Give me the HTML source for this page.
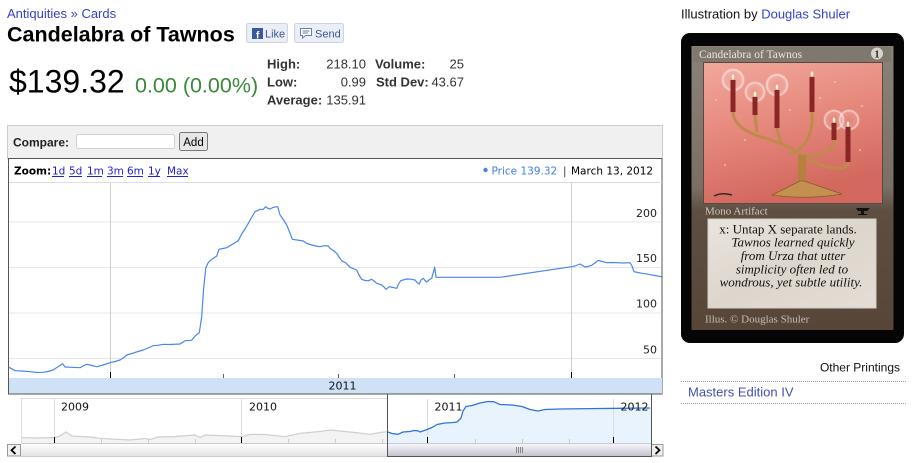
<!DOCTYPE html>
<html>
<head>
<meta charset="utf-8">
<style>
html,body{margin:0;padding:0;background:#fff;}
body{width:912px;height:463px;overflow:hidden;position:relative;}
svg{position:absolute;left:0;top:0;}
</style>
</head>
<body>
<svg width="912" height="463" viewBox="0 0 912 463" xmlns="http://www.w3.org/2000/svg">
<defs>
  <linearGradient id="track" x1="0" y1="0" x2="0" y2="1">
    <stop offset="0" stop-color="#ffffff"/>
    <stop offset="1" stop-color="#e2e2e2"/>
  </linearGradient>
  <linearGradient id="thumb" x1="0" y1="0" x2="0" y2="1">
    <stop offset="0" stop-color="#f6f6fa"/>
    <stop offset="1" stop-color="#c4c4d0"/>
  </linearGradient>
  <linearGradient id="art" x1="0" y1="0" x2="0.3" y2="1">
    <stop offset="0" stop-color="#f2a89c"/>
    <stop offset="0.5" stop-color="#e6887c"/>
    <stop offset="1" stop-color="#d2685e"/>
  </linearGradient>
  <linearGradient id="frame" x1="0" y1="0" x2="0" y2="1">
    <stop offset="0" stop-color="#8a8279"/>
    <stop offset="0.5" stop-color="#7a6f65"/>
    <stop offset="0.58" stop-color="#5e4e42"/>
    <stop offset="1" stop-color="#574638"/>
  </linearGradient>
  <linearGradient id="tbox" x1="0" y1="0" x2="1" y2="1">
    <stop offset="0" stop-color="#e9e4dd"/>
    <stop offset="0.5" stop-color="#ddd6cd"/>
    <stop offset="1" stop-color="#e4ddd5"/>
  </linearGradient>
  <radialGradient id="halo" cx="0.5" cy="0.5" r="0.5">
    <stop offset="0" stop-color="#ffffff" stop-opacity="0"/>
    <stop offset="0.7" stop-color="#ffffff" stop-opacity="0.15"/>
    <stop offset="0.85" stop-color="#ffffff" stop-opacity="0.6"/>
    <stop offset="1" stop-color="#ffffff" stop-opacity="0"/>
  </radialGradient>
</defs>

<!-- ===== Header ===== -->
<g font-family="'Liberation Sans', Arial, sans-serif">
  <text x="7" y="18" font-size="13" fill="#3343c8">Antiquities <tspan fill="#3343c8">»</tspan> Cards</text>
  <text x="7" y="41.5" font-size="21.5" font-weight="bold" fill="#000">Candelabra of Tawnos</text>

  <!-- Like button -->
  <rect x="246.5" y="23.5" width="41" height="19" rx="2" fill="#eceef5" stroke="#cad4e7"/>
  <rect x="252" y="28" width="11" height="11" fill="#3b5998"/>
  <text x="256" y="38.5" font-size="10" font-weight="bold" fill="#fff">f</text>
  <text x="265" y="37.5" font-size="11" fill="#3b5998">Like</text>
  <!-- Send button -->
  <rect x="294.5" y="23.5" width="49" height="19" rx="2" fill="#eceef5" stroke="#cad4e7"/>
  <path d="M300.5 28.5 h11 v7 h-6 l-3 2.5 v-2.5 h-2 z" fill="#fff" stroke="#6d7fa8"/>
  <line x1="302.5" y1="31" x2="309.5" y2="31" stroke="#6d7fa8"/>
  <line x1="302.5" y1="33" x2="308" y2="33" stroke="#6d7fa8"/>
  <text x="315" y="37.5" font-size="11" fill="#3b5998">Send</text>

  <!-- Price -->
  <text x="9" y="92.5" font-size="32" fill="#000">$139.32</text>
  <text x="135" y="92.5" font-size="21.5" fill="#3a883a">0.00 (0.00%)</text>

  <!-- Stats -->
  <g font-size="13" fill="#333">
    <text x="267" y="68.5" font-weight="bold">High:</text>
    <text x="366" y="68.5" text-anchor="end">218.10</text>
    <text x="375" y="68.5" font-weight="bold">Volume:</text>
    <text x="464" y="68.5" text-anchor="end">25</text>
    <text x="267" y="86.5" font-weight="bold">Low:</text>
    <text x="366" y="86.5" text-anchor="end">0.99</text>
    <text x="376" y="86.5" font-weight="bold">Std Dev:</text>
    <text x="464" y="86.5" text-anchor="end">43.67</text>
    <text x="267" y="104.5" font-weight="bold">Average:</text>
    <text x="366" y="104.5" text-anchor="end">135.91</text>
  </g>

  <!-- Compare panel -->
  <rect x="7.5" y="125.5" width="655" height="33" fill="#f0f0f0" stroke="#cccccc"/>
  <text x="13" y="146.5" font-size="12" font-weight="bold" fill="#222">Compare:</text>
  <rect x="76.5" y="134.5" width="98" height="14" rx="2" fill="#fff" stroke="#d0d0d0"/>
  <rect x="179.5" y="132.5" width="28" height="18" rx="2" fill="#e6e6e6" stroke="#777"/>
  <text x="193.5" y="146" font-size="11.5" text-anchor="middle" fill="#000">Add</text>
</g>

<!-- ===== Main chart ===== -->
<rect x="8.5" y="158.5" width="653.5" height="235.5" fill="#fff" stroke="#555"/>
<line x1="9" y1="182.5" x2="662" y2="182.5" stroke="#dddddd"/>
<g font-family="'DejaVu Sans', Verdana, sans-serif" font-size="10.5">
  <text x="14" y="174.5" font-weight="bold" fill="#000">Zoom:</text>
  <g fill="#2222cc">
    <text x="52" y="174.5">1d</text>
    <text x="69" y="174.5">5d</text>
    <text x="87" y="174.5">1m</text>
    <text x="107" y="174.5">3m</text>
    <text x="127" y="174.5">6m</text>
    <text x="148" y="174.5">1y</text>
    <text x="167" y="174.5">Max</text>
  </g>
  <g stroke="#2222cc" stroke-width="1">
    <line x1="52" y1="176.5" x2="64" y2="176.5"/>
    <line x1="69" y1="176.5" x2="82" y2="176.5"/>
    <line x1="87" y1="176.5" x2="102" y2="176.5"/>
    <line x1="107" y1="176.5" x2="123" y2="176.5"/>
    <line x1="127" y1="176.5" x2="143" y2="176.5"/>
    <line x1="148" y1="176.5" x2="160" y2="176.5"/>
    <line x1="167" y1="176.5" x2="188" y2="176.5"/>
  </g>
  <circle cx="485.5" cy="170" r="2.2" fill="#4684ee"/>
  <text x="491.5" y="174.5" fill="#3f7de8">Price 139.32</text>
  <text x="563" y="174.5" fill="#333">|</text>
  <text x="571" y="174.5" fill="#000">March 13, 2012</text>
</g>

<!-- gridlines -->
<g stroke="#e6e6f3" stroke-width="1">
  <line x1="9" y1="222" x2="661" y2="222"/>
  <line x1="9" y1="267.5" x2="661" y2="267.5"/>
  <line x1="9" y1="313" x2="661" y2="313"/>
  <line x1="9" y1="358.5" x2="661" y2="358.5"/>
</g>
<g stroke="#cfcfcf" stroke-width="1">
  <line x1="110.5" y1="183" x2="110.5" y2="378"/>
  <line x1="571.5" y1="183" x2="571.5" y2="378"/>
</g>
<g stroke="#000" stroke-width="1">
  <line x1="110.5" y1="372" x2="110.5" y2="378"/>
  <line x1="571.5" y1="372" x2="571.5" y2="378"/>
</g>
<g stroke="#666" stroke-width="1">
  <line x1="223.5" y1="374" x2="223.5" y2="378"/>
  <line x1="338.5" y1="374" x2="338.5" y2="378"/>
  <line x1="454.5" y1="374" x2="454.5" y2="378"/>
</g>
<g font-family="'DejaVu Sans', Verdana, sans-serif" font-size="11" fill="#222" text-anchor="end">
  <text x="657" y="217">200</text>
  <text x="657" y="262">150</text>
  <text x="657" y="307.5">100</text>
  <text x="657" y="353.5">50</text>
</g>

<!-- main line -->
<polyline fill="none" stroke="#4a86ee" stroke-width="1.2" stroke-linejoin="round"
 points="9,367.3 15,370.7 22,371 30,371.7 37,372.5 43,372.3 48,371.5 53,370 58,366.7 62.7,363.7 65,367 72,367.3 80,367.7 84,365.5 86.7,364.3 92,365.5 96.7,366.7 103,365 110,362.7 115,361.5 120,360 124,357.5 126.7,355 132,353.5 138,351.5 143.3,350 148,348 153.3,345.7 158,345.3 163.3,344.3 170,344.5 180,344 185,340.7 191.7,340.3 195,336 199.3,332.7 201.7,316.7 203.5,290 205.7,268.3 208,263 210,260.7 213,258.5 216.7,256 219,249.3 223,248.5 226.7,247.7 232,244.5 238.3,240.7 241.7,234 245,229 248.3,223.3 251,218.5 255,211.7 260,209.3 263,209.5 265.7,206.7 268,208.5 270,209 273.3,207.3 277.7,206.7 280,215 283,219 286.7,225 290,233 292.3,239.3 297,240 303.3,241 307,243.5 311.7,245 316,246 320,246.7 325,245.6 328.3,246 330,248.3 334,251 336.7,253.3 339,257 341.7,260.7 346,263 350,267.3 353,268.5 356.7,270 359,275 361.7,279.3 365,280.5 368.3,280.7 371.7,279.3 374,281 376.7,283.3 381.7,285 384,287 386,289.3 389.3,286.7 393,287.5 396.7,288.3 398.5,284 400.7,280.7 406.7,279 411,279.2 415,280 417,282.5 419.3,284 421,280 423.3,278.3 425,280.5 426.7,282 429,280 431.7,278.3 434.7,267.3 436,277.3 500,277.3 571.7,266.7 575,266 580,264 585,267 588,266.5 591.7,265.3 595,263 598.3,260.3 602,261.5 606.7,262.7 612,262.5 616.7,262.7 623,263 630,262.7 632,266 634,271.7 638,272.5 641.7,273.3 646,273.8 650,274.7 655,275.5 661.5,276.7"/>

<!-- band -->
<rect x="9" y="378" width="653" height="15.5" fill="#cfe1f6"/>
<text x="328.5" y="389.5" font-family="'DejaVu Sans', Verdana, sans-serif" font-size="11" fill="#111">2011</text>

<!-- ===== Navigator ===== -->
<rect x="21.5" y="398.5" width="630" height="45" fill="#fff"/>
<line x1="21" y1="398.5" x2="387" y2="398.5" stroke="#dddddd"/>
<line x1="21.5" y1="398" x2="21.5" y2="444" stroke="#dddddd"/>
<!-- blue fill under line in window -->
<polygon fill="#e8f3fd" points="387,431.7 392,433.5 398,434.3 403,432 410,431.5 414,430.5 418,430.8 420,432 427,429.5 433,427 437,424.5 445,423 452,422.6 457,422 461,418 463,411 466,406.5 472,405.5 480,403 488,401.5 494,401.8 500,404.5 512,405 522,406.5 530,409.5 538,411 545,409.5 560,409 600,408.5 620,408.3 651,408 651,443 387,443"/>
<g stroke="#dddddd">
  <line x1="54.5" y1="399" x2="54.5" y2="443"/>
  <line x1="241.5" y1="399" x2="241.5" y2="443"/>
  <line x1="427.5" y1="399" x2="427.5" y2="443"/>
  <line x1="613.5" y1="399" x2="613.5" y2="443"/>
</g>
<!-- gray series (outside window) -->
<polygon fill="#f3f3f3" points="22,437.7 40,438 55,437.5 60,436 66,432 72,436 90,437 100,438.3 120,439.5 130,440 140,439 145,438.5 150,439.5 158,437 175,436.5 195,435 200,437.5 205,435 230,436 242,436.7 250,434.3 265,434.5 285,436.7 300,433.3 320,431.5 330,430 340,431 355,432.5 370,434.3 380,432.5 387,431.7 387,443 22,443"/>
<polyline fill="none" stroke="#cfcfcf" stroke-width="1.2" points="22,437.7 40,438 55,437.5 60,436 66,432 72,436 90,437 100,438.3 120,439.5 130,440 140,439 145,438.5 150,439.5 158,437 175,436.5 195,435 200,437.5 205,435 230,436 242,436.7 250,434.3 265,434.5 285,436.7 300,433.3 320,431.5 330,430 340,431 355,432.5 370,434.3 380,432.5 387,431.7"/>
<!-- blue series in window -->
<polyline fill="none" stroke="#2f73e0" stroke-width="1.3" stroke-linejoin="round" points="387,431.7 392,433.5 398,434.3 403,432 410,431.5 414,430.5 418,430.8 420,432 427,429.5 433,427 437,424.5 445,423 452,422.6 457,422 461,418 463,411 466,406.5 472,405.5 480,403 488,401.5 494,401.8 500,404.5 512,405 522,406.5 530,409.5 538,411 545,409.5 560,409 600,408.5 620,408.3 650,408"/>
<!-- nav ticks -->
<line x1="22" y1="443.5" x2="651" y2="443.5" stroke="#cccccc"/>
<g stroke="#000">
  <line x1="54.5" y1="437" x2="54.5" y2="443"/>
  <line x1="241.5" y1="437" x2="241.5" y2="443"/>
  <line x1="427.5" y1="437" x2="427.5" y2="443"/>
  <line x1="613.5" y1="437" x2="613.5" y2="443"/>
</g>
<g stroke="#cccccc">
  <line x1="101.5" y1="439" x2="101.5" y2="443"/>
  <line x1="148.5" y1="439" x2="148.5" y2="443"/>
  <line x1="195.5" y1="439" x2="195.5" y2="443"/>
  <line x1="288.5" y1="439" x2="288.5" y2="443"/>
  <line x1="335.5" y1="439" x2="335.5" y2="443"/>
  <line x1="382.5" y1="439" x2="382.5" y2="443"/>
  <line x1="475.5" y1="439" x2="475.5" y2="443"/>
  <line x1="522.5" y1="439" x2="522.5" y2="443"/>
  <line x1="569.5" y1="439" x2="569.5" y2="443"/>
</g>
<g font-family="'DejaVu Sans', Verdana, sans-serif" font-size="11" fill="#111">
  <text x="61" y="410.5">2009</text>
  <text x="249" y="410.5">2010</text>
  <text x="434.5" y="410.5">2011</text>
  <text x="620.5" y="410.5">2012</text>
</g>

<!-- scrollbar -->
<rect x="21" y="444" width="366" height="12" fill="url(#track)"/>
<line x1="21" y1="456.5" x2="387" y2="456.5" stroke="#cccccc"/>
<rect x="387" y="444" width="264" height="12" fill="url(#thumb)"/>
<g stroke="#888" stroke-width="1">
  <line x1="516.5" y1="447" x2="516.5" y2="453"/>
  <line x1="518.5" y1="447" x2="518.5" y2="453"/>
  <line x1="520.5" y1="447" x2="520.5" y2="453"/>
  <line x1="522.5" y1="447" x2="522.5" y2="453"/>
</g>
<rect x="7.5" y="444.5" width="13" height="11.5" fill="#f0f0f0" stroke="#999"/>
<path d="M15.5 446.5 L11.5 450.2 L15.5 454" fill="none" stroke="#000" stroke-width="1.8"/>
<rect x="651.5" y="444.5" width="11.5" height="11.5" fill="#f0f0f0" stroke="#999"/>
<path d="M655.5 446.5 L659.5 450.2 L655.5 454" fill="none" stroke="#000" stroke-width="1.8"/>

<!-- window outline / chart bottom border -->
<g stroke="#555" stroke-width="1" fill="none">
  <path d="M8.5 394 H387.5 V456.5 H651.5 V394 H662.5"/>
</g>

<!-- ===== Right column ===== -->
<g font-family="'Liberation Sans', Arial, sans-serif">
  <text x="681" y="18.3" font-size="13" fill="#111">Illustration by <tspan fill="#3343c8">Douglas Shuler</tspan></text>
  <text x="900" y="371.7" font-size="12" text-anchor="end" fill="#111">Other Printings</text>
  <line x1="681" y1="381.5" x2="906" y2="381.5" stroke="#999" stroke-dasharray="1,1"/>
  <text x="688" y="396.7" font-size="13" fill="#4050b0">Masters Edition IV</text>
  <line x1="681" y1="403.5" x2="906" y2="403.5" stroke="#999" stroke-dasharray="1,1"/>
</g>

<!-- Card -->
<rect x="681" y="33" width="223" height="310" rx="9" fill="#050505"/>
<rect x="691.5" y="46" width="202" height="284" fill="url(#frame)"/>
<rect x="693" y="47" width="198" height="15" fill="#7f786f"/>
<text x="699" y="58" font-family="'Liberation Serif', serif" font-size="11.5" fill="#ede6dc">Candelabra of Tawnos</text>
<circle cx="877" cy="53.5" r="6" fill="#d8d4cc"/>
<text x="877" y="57.5" font-family="'Liberation Serif', serif" font-size="10" font-weight="bold" text-anchor="middle" fill="#222">1</text>
<!-- art -->
<rect x="703.5" y="62.5" width="179" height="141" fill="url(#art)" stroke="#5a4a3e" stroke-width="1"/>
<g fill="url(#halo)">
  <circle cx="733" cy="80" r="12"/>
  <circle cx="755" cy="92" r="11"/>
  <circle cx="777" cy="85" r="12"/>
  <circle cx="834" cy="120" r="11"/>
  <circle cx="849" cy="120" r="11"/>
</g>
<g fill="#f7c8c0" opacity="0.8">
  <circle cx="716" cy="100" r="1"/><circle cx="745" cy="140" r="1"/><circle cx="820" cy="98" r="1"/>
  <circle cx="835" cy="82" r="1"/><circle cx="862" cy="106" r="1"/><circle cx="725" cy="165" r="1"/>
  <circle cx="860" cy="150" r="1"/><circle cx="790" cy="110" r="1"/>
</g>
<!-- candelabra arms -->
<g fill="none" stroke="#c08a4c" stroke-width="3" stroke-linecap="round">
  <path d="M733 113 Q735 130 765 138 Q790 146 805 156"/>
  <path d="M755 116 L757 131"/>
  <path d="M777 129 L781 143"/>
  <path d="M812 113 Q814 145 790 154"/>
  <path d="M834 141 Q834 152 812 156 L800 157"/>
  <path d="M848 163 Q846 172 820 165 L800 156"/>
</g>
<rect x="798" y="155" width="8" height="26" fill="#b5813f"/>
<path d="M800 181 L804 181 L842 194 Q806 200 772 195 Z" fill="#c39050" stroke="#8a5a28" stroke-width="0.8"/>
<!-- candles -->
<g fill="#8a2626">
  <rect x="730.5" y="80" width="5" height="32"/>
  <rect x="752.5" y="97" width="5" height="18"/>
  <rect x="774.5" y="90" width="5" height="38"/>
  <rect x="809.5" y="77" width="5" height="35"/>
  <rect x="831.5" y="123" width="5" height="17"/>
  <rect x="845.5" y="127" width="5" height="35"/>
</g>
<g fill="#fff5d8">
  <ellipse cx="733" cy="77" rx="1.3" ry="2.5"/>
  <ellipse cx="755" cy="94" rx="1.3" ry="2.5"/>
  <ellipse cx="777" cy="87" rx="1.3" ry="2.5"/>
  <ellipse cx="812" cy="74" rx="1.3" ry="2.5"/>
  <ellipse cx="834" cy="120" rx="1.3" ry="2.5"/>
  <ellipse cx="848" cy="124" rx="1.3" ry="2.5"/>
</g>
<path d="M714 196 q8 -4 18 -1" stroke="#3a2a20" stroke-width="1.5" fill="none"/>
<!-- type line -->
<text x="705" y="214.5" font-family="'Liberation Serif', serif" font-size="11" fill="#cfc8be">Mono Artifact</text>
<path d="M856 208 h14 l-3 3 h-3 v3 h3 v1 h-9 v-1 h3 v-3 h-3 z" fill="#111"/>
<!-- text box -->
<rect x="708" y="219" width="168" height="89" fill="url(#tbox)" stroke="#d5cfc6"/>
<g font-family="'Liberation Serif', serif" font-size="13" fill="#111" text-anchor="middle">
  <text x="788" y="233.5">x: Untap X separate lands.</text>
  <text x="793" y="246.5" font-style="italic">Tawnos learned quickly</text>
  <text x="793" y="260" font-style="italic">from Urza that utter</text>
  <text x="792" y="273.5" font-style="italic">simplicity often led to</text>
  <text x="791" y="286.5" font-style="italic">wondrous, yet subtle utility.</text>
</g>
<text x="705" y="322.5" font-family="'Liberation Serif', serif" font-size="11" fill="#c6beb4">Illus. © Douglas Shuler</text>
</svg>
</body>
</html>
